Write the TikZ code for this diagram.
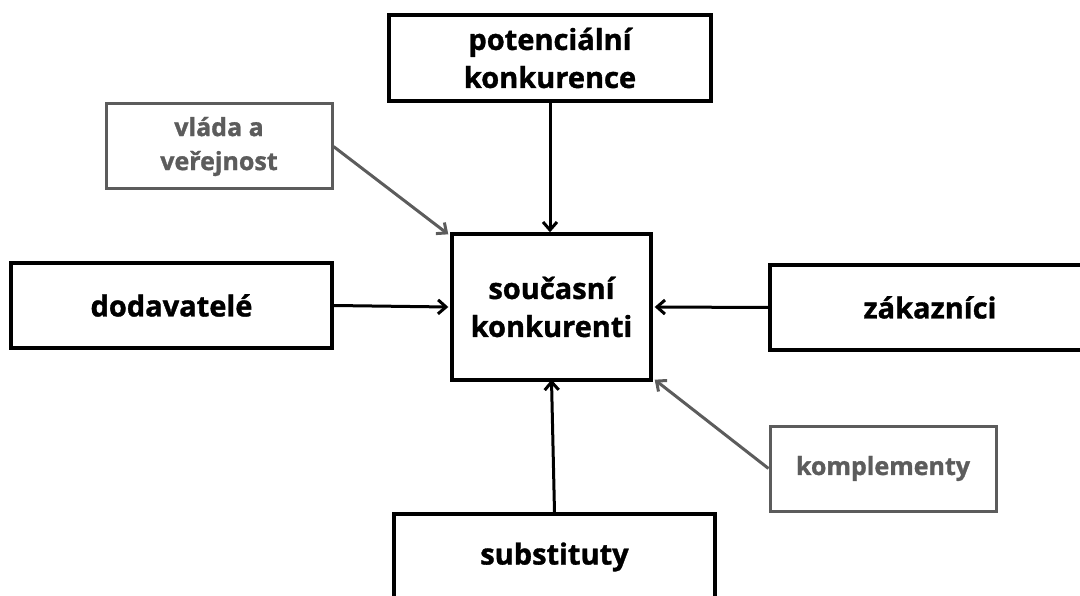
\documentclass[tikz,border=0pt]{standalone}
\usepackage{fontspec}
\setmainfont{Open Sans}[BoldFeatures={FakeBold=1.2}]
\usetikzlibrary{arrows.meta}
\definecolor{dgray}{RGB}{92,92,92}
\tikzset{
  mainbox/.style={draw=black, line width=3.4pt, fill=white, align=center, inner sep=0pt,
    font=\fontsize{29}{38}\selectfont\bfseries, text=black},
  sidebox/.style={draw=dgray, line width=3pt, fill=white, align=center, inner sep=0pt,
    font=\fontsize{25}{34}\selectfont\bfseries, text=dgray},
  blackarrow/.style={draw=black, line width=3pt, -{Straight Barb[length=8pt,width=14pt,line width=3pt]}},
  grayarrow/.style={draw=dgray, line width=3pt, -{Straight Barb[length=8pt,width=14pt,line width=3pt]}}
}
\begin{document}
\begin{tikzpicture}[x=1pt,y=-1pt]
\useasboundingbox (0,0) rectangle (1080,596);
\node[mainbox, minimum width=322pt, minimum height=86pt] (pot) at (550,58) {potenciální\\konkurence};
\node[sidebox, minimum width=226pt, minimum height=85pt] (vlada) at (219,146.5) {vláda a\\veřejnost};
\node[mainbox, minimum width=199pt, minimum height=146pt] (cur) at (551.5,307) {současní\\konkurenti};
\node[mainbox, minimum width=321pt, minimum height=85pt] (dod) at (171.5,305.5) {dodavatelé};
\node[mainbox, minimum width=320pt, minimum height=85pt] (zak) at (930,307.5) {zákazníci};
\node[sidebox, minimum width=226pt, minimum height=85pt] (kompl) at (883,468.5) {komplementy};
\node[mainbox, minimum width=321pt, minimum height=86pt] (subst) at (554.5,557) {substituty};
\draw[blackarrow] (pot.south) -- (pot.south |- cur.north);
\draw[grayarrow] (vlada.east) -- ([xshift=-2pt,yshift=-2pt]cur.north west);
\draw[blackarrow] (dod.east) -- ([xshift=-2pt]cur.west);
\draw[blackarrow] (zak.west) -- ([xshift=2pt]cur.east);
\draw[blackarrow] (subst.north) -- ([yshift=2pt]cur.south);
\draw[grayarrow] (kompl.west) -- ([xshift=2pt,yshift=2pt]cur.south east);
\end{tikzpicture}
\end{document}
